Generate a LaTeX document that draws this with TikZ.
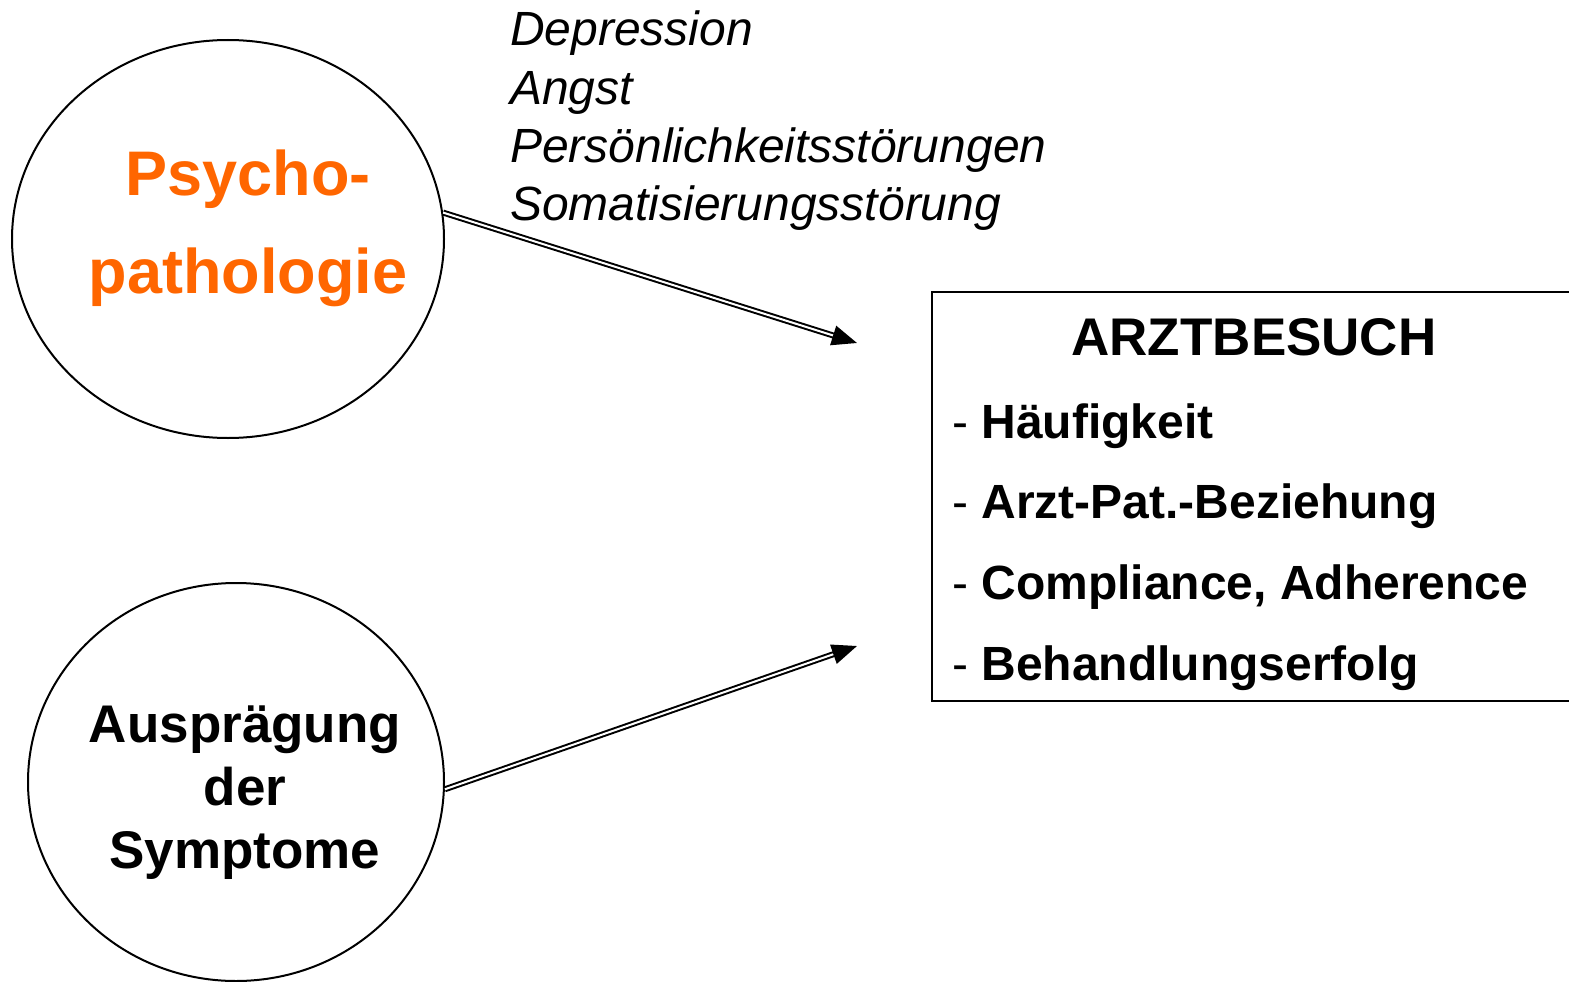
\documentclass[tikz,border=0pt]{standalone}
\usepackage{fontspec}
\setmainfont{Liberation Sans}
\usetikzlibrary{shapes.geometric,arrows.meta,calc}
\definecolor{psyorange}{RGB}{255,102,0}
\newcommand{\itemdash}{{\mdseries -} }
\tikzset{
  bubble/.style={ellipse, draw, line width=2pt, inner sep=0pt},
  dbl/.style={double, double distance=2pt, line width=2pt},
  tiphead/.style={-{Triangle[length=25pt,width=20pt]}, line width=2pt},
  bigbold/.style={anchor=base, inner sep=0pt, font=\bfseries\fontsize{63}{70}\selectfont, text=psyorange},
  midbold/.style={anchor=base, inner sep=0pt, font=\bfseries\fontsize{53}{60}\selectfont},
  itemtext/.style={anchor=base west, inner sep=0pt, font=\bfseries\fontsize{48}{54}\selectfont},
  listtext/.style={anchor=base west, inner sep=0pt, font=\itshape\fontsize{48}{54}\selectfont},
}
\begin{document}
\begin{tikzpicture}[x=1pt,y=-1pt]
\useasboundingbox (0,0) rectangle (1569,982);

% the two influencing factors
\node[bubble, minimum width=432pt, minimum height=398pt] (c1) at (228,239) {};
\node[bubble, minimum width=416pt, minimum height=398pt] (c2) at (236,782) {};

\node[bigbold] (p1) at (248,195) {Psycho-};
\node[bigbold] (p2) at (248,293) {pathologie};

\node[midbold] (a1) at (245,742) {Ausprägung};
\node[midbold] (a2) at (245,805) {der};
\node[midbold] (a3) at (245,868) {Symptome};

% disorders
\node[listtext] (d1) at (510,46) {Depression};
\node[listtext] (d2) at (510,104) {Angst};
\node[listtext] (d3) at (510,162) {Persönlichkeitsstörungen};
\node[listtext] (d4) at (510,220) {Somatisierungsstörung};

% outcome box (open to the right)
\node[draw, line width=2pt, anchor=north west, minimum width=660pt, minimum height=409pt, inner sep=0pt] (box) at (931,291) {};
\node[midbold] (title) at (1254,355) {ARZTBESUCH};
\node[itemtext] (i1) at (952,438) {\itemdash Häufigkeit};
\node[itemtext] (i2) at (952,518) {\itemdash Arzt-Pat.-Beziehung};
\node[itemtext] (i3) at (952,599) {\itemdash Compliance, Adherence};
\node[itemtext] (i4) at (952,680) {\itemdash Behandlungserfolg};

% double-lined arrows
\coordinate (t1) at (857,343);
\coordinate (t2) at (857,646);
\draw[dbl, shorten >=20pt] (c1.7) -- (t1);
\draw[tiphead] ($(t1)!22pt!(c1.7)$) -- (t1);
\draw[dbl, shorten >=20pt] (c2.-2) -- (t2);
\draw[tiphead] ($(t2)!22pt!(c2.-2)$) -- (t2);
\end{tikzpicture}
\end{document}
